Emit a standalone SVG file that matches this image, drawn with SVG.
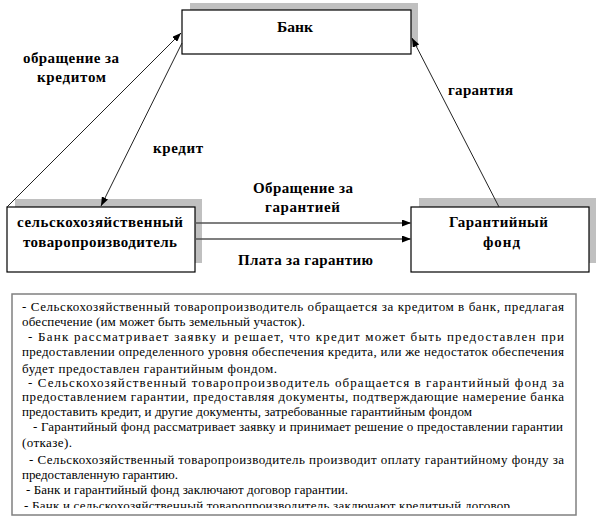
<svg xmlns="http://www.w3.org/2000/svg" width="598" height="518" viewBox="0 0 598 518">
<style>
.shadow{fill:#c0c0c0;stroke:none}
.box{fill:#fff;stroke:#000;stroke-width:1.2}
.lbl{font-family:'Liberation Serif','DejaVu Serif',serif;font-weight:bold;font-size:15px;fill:#000}
.body{font-family:'Liberation Serif','DejaVu Serif',serif;font-size:13px;fill:#000}
.conn{fill:none;stroke:#222;stroke-width:1}
.conn2{fill:none;stroke:#555;stroke-width:1.6}
</style>
<defs>
<marker id="ah" markerWidth="9" markerHeight="7" refX="9" refY="3.5" orient="auto" markerUnits="userSpaceOnUse">
<path d="M0,0 L9,3.5 L0,7 z" fill="#000"/>
</marker>
<clipPath id="tclip"><rect x="12" y="294" width="564" height="214"/></clipPath>
</defs>
<rect width="598" height="518" fill="#fff"/>

<g id="bank">
<rect class="shadow" x="190" y="3" width="228" height="44"/>
<rect class="box" x="182" y="10" width="229" height="44"/>
<text class="lbl" x="277" y="32" textLength="36" lengthAdjust="spacingAndGlyphs">Банк</text>
</g>

<g id="farmer">
<rect class="shadow" x="15" y="199" width="187" height="64"/>
<rect class="box" x="7" y="207" width="188" height="65"/>
<text class="lbl" x="17" y="227" textLength="166" lengthAdjust="spacing">сельскохозяйственный</text>
<text class="lbl" x="23" y="247" textLength="154" lengthAdjust="spacing">товаропроизводитель</text>
</g>

<g id="fund">
<rect class="shadow" x="419" y="198" width="177" height="65"/>
<rect class="box" x="411" y="207" width="178" height="65"/>
<text class="lbl" x="449" y="227" textLength="99" lengthAdjust="spacing">Гарантийный</text>
<text class="lbl" x="483" y="247" textLength="37" lengthAdjust="spacing">фонд</text>
</g>

<g id="connectors">
<line class="conn" x1="7" y1="207" x2="181" y2="33" marker-end="url(#ah)"/>
<line class="conn" x1="182" y1="43" x2="101" y2="206" marker-end="url(#ah)"/>
<line class="conn" x1="499" y1="207" x2="412" y2="38" marker-end="url(#ah)"/>
<line class="conn2" x1="195" y1="223" x2="411" y2="223" marker-end="url(#ah)"/>
<line class="conn2" x1="195" y1="239" x2="411" y2="239" marker-end="url(#ah)"/>
</g>

<g id="labels">
<text class="lbl" x="23" y="63" textLength="96" lengthAdjust="spacing">обращение за</text>
<text class="lbl" x="37" y="82" textLength="69" lengthAdjust="spacing">кредитом</text>
<text class="lbl" x="153" y="153" textLength="50" lengthAdjust="spacing">кредит</text>
<text class="lbl" x="448" y="95" textLength="65" lengthAdjust="spacing">гарантия</text>
<text class="lbl" x="253" y="193" textLength="100" lengthAdjust="spacing">Обращение за</text>
<text class="lbl" x="265" y="212" textLength="75" lengthAdjust="spacing">гарантией</text>
<text class="lbl" x="238" y="265" textLength="135" lengthAdjust="spacing">Плата за гарантию</text>
</g>

<g id="notes">
<rect x="12" y="294" width="564" height="221" fill="#fff" stroke="#808080" stroke-width="1.5"/>
<g clip-path="url(#tclip)">
<text class="body" x="22" y="311" textLength="542" lengthAdjust="spacing">- Сельскохозяйственный товаропроизводитель обращается за кредитом в банк, предлагая</text>
<text class="body" x="22" y="326" textLength="283" lengthAdjust="spacing">обеспечение (им может быть земельный участок).</text>
<text class="body" x="28" y="341" textLength="536" lengthAdjust="spacing">- Банк рассматривает заявку и решает, что кредит может быть предоставлен при</text>
<text class="body" x="22" y="356" textLength="542" lengthAdjust="spacing">предоставлении определенного уровня обеспечения кредита, или же недостаток обеспечения</text>
<text class="body" x="22" y="373" textLength="255" lengthAdjust="spacing">будет предоставлен гарантийным фондом.</text>
<text class="body" x="28" y="387" textLength="536" lengthAdjust="spacing">- Сельскохозяйственный товаропроизводитель обращается в гарантийный фонд за</text>
<text class="body" x="22" y="401" textLength="542" lengthAdjust="spacing">предоставлением гарантии, предоставляя документы, подтверждающие намерение банка</text>
<text class="body" x="22" y="416" textLength="450" lengthAdjust="spacing">предоставить кредит, и другие документы, затребованные гарантийным фондом</text>
<text class="body" x="33" y="431" textLength="530" lengthAdjust="spacing">- Гарантийный фонд рассматривает заявку и принимает решение о предоставлении гарантии</text>
<text class="body" x="22" y="447" textLength="50" lengthAdjust="spacing">(отказе).</text>
<text class="body" x="29" y="464" textLength="535" lengthAdjust="spacing">- Сельскохозяйственный товаропроизводитель производит оплату гарантийному фонду за</text>
<text class="body" x="22" y="479" textLength="156" lengthAdjust="spacing">предоставленную гарантию.</text>
<text class="body" x="26" y="494" textLength="322" lengthAdjust="spacing">- Банк и гарантийный фонд заключают договор гарантии.</text>
<text class="body" x="24" y="510" textLength="486" lengthAdjust="spacing">- Банк и сельскохозяйственный товаропроизводитель заключают кредитный договор</text>
</g>
</g>
</svg>
